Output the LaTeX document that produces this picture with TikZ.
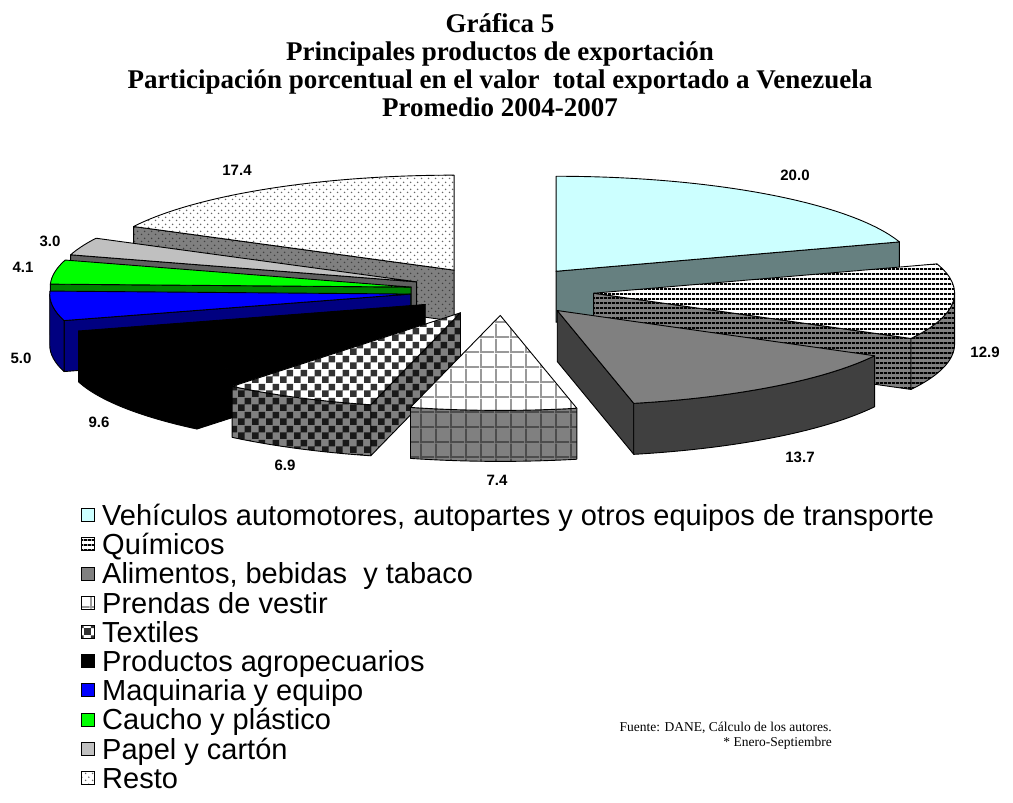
\documentclass[tikz,border=0pt]{standalone}
\usepackage{fontspec}
\setmainfont{Liberation Serif}
\newfontfamily\arialf{Liberation Sans}
\usetikzlibrary{calc,patterns}

\pgfdeclarepatternformonly{chk}{\pgfqpoint{0pt}{0pt}}{\pgfqpoint{14pt}{14pt}}{\pgfqpoint{14pt}{14pt}}{%
 \pgfpathrectangle{\pgfqpoint{0pt}{0pt}}{\pgfqpoint{7pt}{7pt}}%
 \pgfpathrectangle{\pgfqpoint{7pt}{7pt}}{\pgfqpoint{7pt}{7pt}}%
 \pgfusepath{fill}}
\pgfdeclarepatternformonly{grd}{\pgfqpoint{0pt}{0pt}}{\pgfqpoint{15pt}{15pt}}{\pgfqpoint{15pt}{15pt}}{%
 \pgfpathrectangle{\pgfqpoint{0pt}{0pt}}{\pgfqpoint{2pt}{15pt}}%
 \pgfpathrectangle{\pgfqpoint{0pt}{0pt}}{\pgfqpoint{15pt}{2pt}}%
 \pgfusepath{fill}}
\pgfdeclarepatternformonly{hln}{\pgfqpoint{0pt}{0pt}}{\pgfqpoint{4pt}{4.5pt}}{\pgfqpoint{4pt}{4.5pt}}{%
 \pgfpathrectangle{\pgfqpoint{0pt}{0pt}}{\pgfqpoint{4pt}{2.1pt}}%
 \pgfusepath{fill}}
\pgfdeclarepatternformonly{dts}{\pgfqpoint{0pt}{0pt}}{\pgfqpoint{7pt}{7pt}}{\pgfqpoint{7pt}{7pt}}{%
 \pgfpathcircle{\pgfqpoint{1.75pt}{1.75pt}}{0.9pt}%
 \pgfpathcircle{\pgfqpoint{5.25pt}{5.25pt}}{0.9pt}%
 \pgfusepath{fill}}

\definecolor{vcyan}{HTML}{CCFFFF}
\definecolor{vsidec}{HTML}{668080}
\definecolor{gmid}{HTML}{808080}
\definecolor{gdark}{HTML}{404040}
\definecolor{navyc}{HTML}{000080}
\definecolor{bluec}{HTML}{0000FF}
\definecolor{lgreen}{HTML}{00FF00}
\definecolor{dgreen}{HTML}{008000}
\definecolor{silverc}{HTML}{C0C0C0}
\definecolor{silverd}{HTML}{606060}

\newcommand\topface[4]{%
 \path[#4] (#1) -- ($(#1)+(#2:361 and 95)$) arc[start angle=#2, end angle=#3, x radius=361, y radius=95] -- cycle;}
\newcommand\radface[3]{%
 \path[#3] (#1) -- ($(#1)+(#2:361 and 95)$) -- ($(#1)+(#2:361 and 95)+(0,-51)$) -- ($(#1)+(0,-51)$) -- cycle;}
\newcommand\curvface[4]{%
 \path[#4] ($(#1)+(#2:361 and 95)$) arc[start angle=#2, end angle=#3, x radius=361, y radius=95] -- ++(0,-51) arc[start angle=#3, end angle=#2, x radius=361, y radius=95] -- cycle;}

\tikzset{
 pieedge/.style={draw=black, line width=0.9pt, line join=round},
 vtop/.style={pieedge, fill=vcyan},
 vside/.style={pieedge, fill=vsidec},
 qtop/.style={pieedge, preaction={fill=white}, pattern=hln, pattern color=black},
 qside/.style={pieedge, preaction={fill=gmid}, pattern=hln, pattern color=black},
 atop/.style={pieedge, fill=gmid},
 aside/.style={pieedge, fill=gdark},
 prtop/.style={pieedge, preaction={fill=white}, pattern=grd, pattern color=black!40},
 prside/.style={pieedge, preaction={fill=gmid}, pattern=grd, pattern color=black!70},
 txtop/.style={pieedge, preaction={fill=white}, pattern=chk, pattern color=black!80},
 txside/.style={pieedge, preaction={fill=gmid}, pattern=chk, pattern color=black!90},
 kall/.style={pieedge, fill=black},
 mtop/.style={pieedge, fill=bluec},
 mside/.style={pieedge, fill=navyc},
 ctop/.style={pieedge, fill=lgreen},
 cside/.style={pieedge, fill=dgreen},
 ptop/.style={pieedge, fill=silverc},
 pside/.style={pieedge, fill=silverd},
 rtop/.style={pieedge, preaction={fill=white}, pattern=dts, pattern color=black!60},
 rside/.style={pieedge, preaction={fill=gmid}, pattern=dts, pattern color=black!75},
 lbl/.style={font=\arialf\bfseries\fontsize{15}{15}\selectfont, inner sep=0pt},
 leg/.style={font=\arialf\fontsize{29}{29}\selectfont, anchor=base west, inner sep=0pt},
 sw/.style={line width=0.8pt, minimum size=13pt, inner sep=0pt, draw=black},
 ttl/.style={font=\bfseries\fontsize{27}{27}\selectfont, inner sep=0pt, anchor=base},
 fn/.style={font=\fontsize{13.5}{13.5}\selectfont, anchor=base east, inner sep=0pt}
}

\begin{document}
\begin{tikzpicture}[x=1pt,y=1pt]
\fill[white] (0,0) rectangle (1013,-803);
\useasboundingbox (0,0) rectangle (1013,-803);

% title
\node[ttl] (t1) at (500,-32) {Gráfica 5};
\node[ttl] (t2) at (500,-60) {Principales productos de exportación};
\node[ttl] (t3) at (500,-88) {Participación porcentual en el valor\ \ total exportado a Venezuela};
\node[ttl] (t4) at (500,-116) {Promedio 2004-2007};

% pie centres
\coordinate (O) at (502,-291);
\coordinate (c1) at ($(O)+(54:92 and 24.4)$);
\coordinate (c2) at ($(O)+(-5.22:92 and 24.4)$);
\coordinate (c3) at ($(O)+(-53.1:92 and 24.4)$);
\coordinate (c4) at ($(O)+(-91.08:92 and 24.4)$);
\coordinate (c5) at ($(O)+(-116.82:92 and 24.4)$);
\coordinate (c6) at ($(O)+(-146.52:92 and 24.4)$);
\coordinate (c7) at ($(O)+(-172.8:92 and 24.4)$);
\coordinate (c8) at ($(O)+(-189.18:92 and 24.4)$);
\coordinate (c9) at ($(O)+(-201.96:92 and 24.4)$);
\coordinate (c10) at ($(O)+(-238.68:92 and 24.4)$);

% Resto
\radface{c10}{-207.36}{rside}
\topface{c10}{-207.36}{-270}{rtop}
% Vehiculos
\radface{c1}{18}{vside}
\topface{c1}{90}{18}{vtop}
% Papel
\radface{c9}{-196.56}{pside}
\topface{c9}{-196.56}{-207.36}{ptop}
% Caucho
\radface{c8}{-181.8}{cside}
\topface{c8}{-181.8}{-196.56}{ctop}
% Quimicos
\radface{c2}{-28.44}{qside}
\curvface{c2}{0}{-28.44}{qside}
\topface{c2}{18}{-28.44}{qtop}
% Maquinaria
\radface{c7}{-163.8}{mside}
\curvface{c7}{-163.8}{-180}{mside}
\topface{c7}{-163.8}{-181.8}{mtop}
% Productos agropecuarios
\radface{c6}{-129.24}{kall}
\curvface{c6}{-129.24}{-163.8}{kall}
\topface{c6}{-129.24}{-163.8}{kall}
% Alimentos
\radface{c3}{-77.76}{aside}
\curvface{c3}{-28.44}{-77.76}{aside}
\topface{c3}{-28.44}{-77.76}{atop}
% Textiles
\radface{c5}{-104.4}{txside}
\curvface{c5}{-104.4}{-129.24}{txside}
\topface{c5}{-104.4}{-129.24}{txtop}
% Prendas
\curvface{c4}{-77.76}{-104.4}{prside}
\topface{c4}{-77.76}{-104.4}{prtop}

% value labels
\node[lbl] (v1) at (795,-175) {20.0};
\node[lbl] (v2) at (985,-352) {12.9};
\node[lbl] (v3) at (800,-457) {13.7};
\node[lbl] (v4) at (497,-480) {7.4};
\node[lbl] (v5) at (285,-465) {6.9};
\node[lbl] (v6) at (99,-422) {9.6};
\node[lbl] (v7) at (21,-358) {5.0};
\node[lbl] (v8) at (23,-267) {4.1};
\node[lbl] (v9) at (50,-241) {3.0};
\node[lbl] (v10) at (237,-170) {17.4};

% legend
\node[sw, fill=vcyan] (s1) at (88,-515) {};
\node[sw, preaction={fill=white}, pattern=hln, pattern color=black] (s2) at (88,-544.2) {};
\node[sw, fill=gmid] (s3) at (88,-573.4) {};
\node[sw, preaction={fill=white}, pattern=grd, pattern color=black!40] (s4) at (88,-602.6) {};
\node[sw, preaction={fill=white}, pattern=chk, pattern color=black!80] (s5) at (88,-631.8) {};
\node[sw, fill=black] (s6) at (88,-661) {};
\node[sw, fill=bluec] (s7) at (88,-690.2) {};
\node[sw, fill=lgreen] (s8) at (88,-719.4) {};
\node[sw, fill=silverc] (s9) at (88,-748.6) {};
\node[sw, preaction={fill=white}, pattern=dts, pattern color=black!60] (s10) at (88,-777.8) {};

\node[leg] (e1) at (102,-525.5) {Vehículos automotores, autopartes y otros equipos de transporte};
\node[leg] (e2) at (102,-554.7) {Químicos};
\node[leg] (e3) at (102,-583.9) {Alimentos, bebidas\ \ y tabaco};
\node[leg] (e4) at (102,-613.1) {Prendas de vestir};
\node[leg] (e5) at (102,-642.3) {Textiles};
\node[leg] (e6) at (102,-671.5) {Productos agropecuarios};
\node[leg] (e7) at (102,-700.7) {Maquinaria y equipo};
\node[leg] (e8) at (102,-729.9) {Caucho y plástico};
\node[leg] (e9) at (102,-759.1) {Papel y cartón};
\node[leg] (e10) at (102,-788.3) {Resto};

% footnote
\node[fn] (f1) at (832,-731) {Fuente: DANE, Cálculo de los autores.};
\node[fn] (f2) at (832,-746) {* Enero-Septiembre};
\end{tikzpicture}
\end{document}
